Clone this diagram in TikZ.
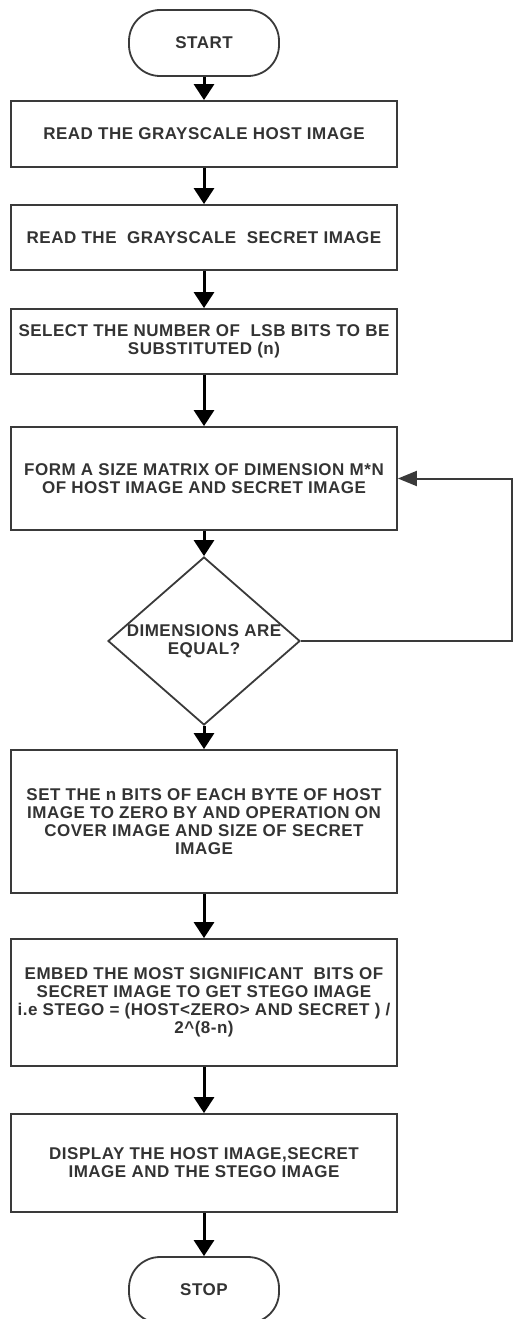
\documentclass[tikz,border=0pt]{standalone}
\usepackage{fontspec}
\setmainfont{Liberation Sans}[LetterSpace=3]
\usepackage{tikz}
\usetikzlibrary{arrows.meta,shapes.geometric}
\usepackage{xcolor}
\definecolor{edgegray}{HTML}{3A3A3A}

\begin{document}
\begin{tikzpicture}[x=1pt,y=-1pt,
    every node/.style={font=\bfseries\fontsize{17}{18}\selectfont, text=black!80, align=center},
    terminal/.style={draw=edgegray, line width=1.8pt, rounded corners=31pt, minimum width=150pt, minimum height=66pt, inner sep=0pt},
    process/.style={draw=edgegray, line width=1.8pt, minimum width=386pt, inner sep=0pt},
    decision/.style={draw=edgegray, line width=1.8pt, diamond, minimum width=192pt, minimum height=168pt, inner sep=0pt},
    flow/.style={line width=3pt, -{Triangle[length=16pt,width=20pt]}},
    back/.style={line width=2pt, edgegray, -{Triangle[length=19pt,width=15pt]}}]
    \useasboundingbox (0,0) rectangle (513,1319);
    \node[terminal] (start) at (204,43) {START};
    \node[process, minimum height=66pt] (host) at (204,134) {READ THE GRAYSCALE HOST IMAGE};
    \node[process, minimum height=65pt] (secret) at (204,237.5) {READ THE \ GRAYSCALE \ SECRET IMAGE};
    \node[process, minimum height=65pt] (lsb) at (204,341.5) {SELECT THE NUMBER OF \ LSB BITS TO BE\\SUBSTITUTED (n)};
    \node[process, minimum height=103pt] (size) at (204,478.5) {FORM A SIZE MATRIX OF DIMENSION M*N\\OF HOST IMAGE AND SECRET IMAGE};
    \node[decision, label=center:{DIMENSIONS ARE\\EQUAL?}] (equal) at (204,641) {};
    \node[process, minimum height=143pt] (zero) at (204,821.5) {SET THE n BITS OF EACH BYTE OF HOST\\IMAGE TO ZERO BY AND OPERATION ON\\COVER IMAGE AND SIZE OF SECRET\\IMAGE};
    \node[process, minimum height=127pt] (embed) at (204,1002.5) {EMBED THE MOST SIGNIFICANT \ BITS OF\\SECRET IMAGE TO GET STEGO IMAGE\\i.e STEGO = (HOST<ZERO> AND SECRET ) /\\2\textasciicircum(8-n)};
    \node[process, minimum height=98pt] (show) at (204,1163) {DISPLAY THE HOST IMAGE,SECRET\\IMAGE AND THE STEGO IMAGE};
    \node[terminal] (stop) at (204,1290) {STOP};
    \coordinate (rim) at (512,0);
    % main sequence
    \draw[flow] (start) -- (host);
    \draw[flow] (host) -- (secret);
    \draw[flow] (secret) -- (lsb);
    \draw[flow] (lsb) -- (size);
    \draw[flow] (size) -- (equal);
    \draw[flow] (equal) -- (zero);
    \draw[flow] (zero) -- (embed);
    \draw[flow] (embed) -- (show);
    \draw[flow] (show) -- (stop);
    % not equal: back to the matrix step
    \draw[back] (equal.east) -- (equal.east -| rim) |- (size.east);
\end{tikzpicture}
\end{document}
